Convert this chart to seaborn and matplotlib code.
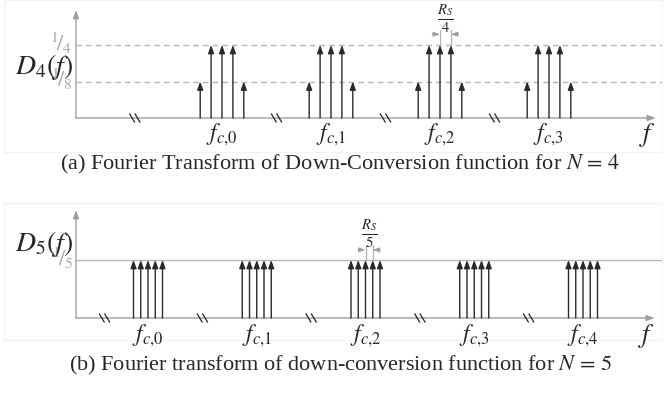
import matplotlib
matplotlib.use('Agg')
import numpy as np
import matplotlib.pyplot as plt
import seaborn as sns
from matplotlib.path import Path

sns.set_style("white")
plt.rcParams['font.family'] = ['Liberation Serif', 'DejaVu Serif']
plt.rcParams['mathtext.fontset'] = 'stix'

# ---- data: panel (a), N = 4, x in units of R_S/4 relative to f_c,0
a_centers = [0, 10, 20, 30]
a_offsets = [-2, -1, 0, 1, 2]
a_heights = [1/8, 1/4, 1/4, 1/4, 1/8]
a_labels = [r'$f_{c,\!0}$', r'$f_{c,\!1}$', r'$f_{c,\!2}$', r'$f_{c,\!3}$']
a_breaks = [-8, 5, 15, 25]
a_levels = [1/4, 1/8]
a_level_labels = [r'$^1\!/_4$', r'$^1\!/_8$']

# ---- data: panel (b), N = 5, x in units of R_S/5 relative to f_c,0
b_centers = [0, 15, 30, 45, 60]
b_offsets = [-2, -1, 0, 1, 2]
b_heights = [1/5, 1/5, 1/5, 1/5, 1/5]
b_labels = [r'$f_{c,\!0}$', r'$f_{c,\!1}$', r'$f_{c,\!2}$', r'$f_{c,\!3}$', r'$f_{c,\!4}$']
b_breaks = [-6, 7.5, 22.5, 37.5, 52.5]
b_levels = [1/5]
b_level_labels = [r'$^1\!/_5$']

W, H = 666, 393
AX_GRAY = '#a0a0a0'
STEM = '#2a2a2a'

brk = Path([(-0.6, 0.5), (0.0, -0.5), (0.0, 0.5), (0.6, -0.5)],
           [Path.MOVETO, Path.LINETO, Path.MOVETO, Path.LINETO])

fig = plt.figure(figsize=(W / 100, H / 100), dpi=100)


def make_axes(box, x0, xs, y0, ys):
    # box = (left, top, right, bottom) in pixels; mapping pixel <-> data
    l, t, r, b = box
    ax = fig.add_axes([l / W, 1 - b / H, (r - l) / W, (b - t) / H])
    ax.set_xlim((l - x0) / xs, (r - x0) / xs)
    ax.set_ylim((y0 - b) / ys, (y0 - t) / ys)
    ax.set_xticks([])
    ax.set_yticks([])
    for s in ax.spines.values():
        s.set_color('#f2f2f2')
        s.set_linewidth(0.8)
    ax.patch.set_alpha(0)
    return ax


def arrow(ax, x0, y0, x1, y1, color, lw=1.0, ms=8):
    ax.annotate('', xy=(x1, y1), xytext=(x0, y0),
                arrowprops=dict(arrowstyle='-|>,head_length=0.6,head_width=0.22',
                                color=color, lw=lw, shrinkA=0, shrinkB=0,
                                mutation_scale=ms),
                annotation_clip=False)


def draw_panel(ax, centers, offsets, heights, labels, breaks, levels, level_labels,
               yax_x, xend, ytop, dashed, flab, dlabel, dpos, fpos,
               ann_k, ann_top, ann_arrow_y, frac, frac_y, arr_len):
    # horizontal reference levels
    for lv, lt in zip(levels, level_labels):
        ax.plot([yax_x, ax.get_xlim()[1]], [lv, lv], color='#b5b5b5', lw=1.0,
                ls=(0, (4, 3)) if dashed else '-', zorder=1)
        ax.text(yax_x - 0.3, lv + 0.006, lt, ha='right', va='center', color='#a8a8a8',
                fontsize=16)
    # axes with arrows
    arrow(ax, yax_x, 0, yax_x, ytop, AX_GRAY, lw=1.0)
    arrow(ax, yax_x, 0, xend, 0, AX_GRAY, lw=1.0)
    # spectral lines
    for c in centers:
        for o, h in zip(offsets, heights):
            arrow(ax, c + o, 0, c + o, h, STEM, lw=1.0)
    # axis breaks
    sns.scatterplot(x=breaks, y=[0] * len(breaks), marker=brk, s=60,
                    facecolor='none', edgecolor='#222222', linewidth=0.9,
                    ax=ax, zorder=5, clip_on=False)
    # carrier labels
    for c, lab in zip(centers, labels):
        ax.text(c, flab, lab, ha='center', va='center', fontsize=17)
    ax.text(fpos, flab, r'$f$', ha='center', va='center', fontsize=19)
    ax.text(dpos[0], dpos[1], dlabel, ha='center', va='center', fontsize=20)
    # spacing annotation
    for k in ann_k:
        ax.plot([k, k], [levels[0], ann_top], color='#b0b0b0', lw=0.9)
    arrow(ax, ann_k[0] - arr_len, ann_arrow_y, ann_k[0], ann_arrow_y, '#a0a0a0', lw=0.9, ms=6)
    arrow(ax, ann_k[1] + arr_len, ann_arrow_y, ann_k[1], ann_arrow_y, '#a0a0a0', lw=0.9, ms=6)
    ax.text((ann_k[0] + ann_k[1]) / 2, frac_y, frac, ha='center', va='center',
            fontsize=15)


# panel (a)
ax_a = make_axes((4, 0, 662, 152), 222, 10.9, 118, 292)
draw_panel(ax_a, a_centers, a_offsets, a_heights, a_labels, a_breaks,
           a_levels, a_level_labels,
           yax_x=-13.4, xend=39.8, ytop=0.37, dashed=True, flab=-0.058,
           dlabel=r'$D_4(f)$', dpos=(-16.3, 0.175), fpos=39.0,
           ann_k=[20, 21], ann_top=0.30, ann_arrow_y=0.287,
           frac=r'$\frac{R_S}{4}$', frac_y=0.34, arr_len=0.7)

# panel (b)
ax_b = make_axes((4, 203, 662, 340), 148, 7.25, 318, 290)
draw_panel(ax_b, b_centers, b_offsets, b_heights, b_labels, b_breaks,
           b_levels, b_level_labels,
           yax_x=-9.93, xend=69.9, ytop=0.372, dashed=False, flab=-0.062,
           dlabel=r'$D_5(f)$', dpos=(-14.3, 0.255), fpos=68.8,
           ann_k=[30, 31], ann_top=0.252, ann_arrow_y=0.235,
           frac=r'$\frac{R_S}{5}$', frac_y=0.29, arr_len=1.0)

fig.text(340 / W, 1 - 164 / H,
         r'(a) Fourier Transform of Down-Conversion function for $N\,=\,4$',
         ha='center', va='center', fontsize=16)
fig.text(341 / W, 1 - 365 / H,
         r'(b) Fourier transform of down-conversion function for $N\,=\,5$',
         ha='center', va='center', fontsize=16)

fig.savefig('out.png', dpi=100)
